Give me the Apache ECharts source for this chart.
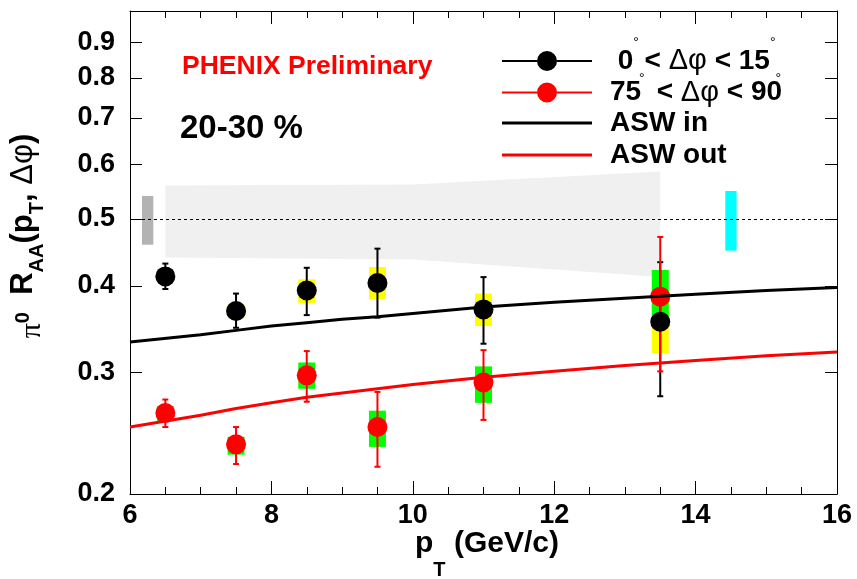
<!DOCTYPE html>
<html>
<head>
<meta charset="utf-8">
<style>
  html, body { margin: 0; padding: 0; background: #fff; }
  #chart { width: 857px; height: 579px; }
</style>
<script src="https://cdn.jsdelivr.net/npm/echarts@6/dist/echarts.min.js"></script>
</head>
<body>
<div id="chart"></div>
<script>
// pT bins of the measured points
const ptBins = [6.5, 7.5, 8.5, 9.5, 11, 13.5];

// 0 < dphi < 15 (in plane)
const inPlane  = [0.413, 0.368, 0.394, 0.404, 0.370, 0.355];
const inStatLo = [0.396, 0.348, 0.363, 0.360, 0.330, 0.277];
const inStatHi = [0.431, 0.390, 0.425, 0.453, 0.412, 0.433];
const inSysLo  = [0.405, 0.360, 0.378, 0.383, 0.350, 0.320];
const inSysHi  = [0.421, 0.376, 0.409, 0.426, 0.390, 0.395];

// 75 < dphi < 90 (out of plane)
const outPlane  = [0.262, 0.236, 0.297, 0.250, 0.290, 0.386];
const outStatLo = [0.250, 0.221, 0.272, 0.219, 0.256, 0.301];
const outStatHi = [0.274, 0.250, 0.322, 0.281, 0.323, 0.471];
const outSysLo  = [0.255, 0.228, 0.284, 0.234, 0.271, 0.353];
const outSysHi  = [0.268, 0.242, 0.310, 0.264, 0.306, 0.422];

// ASW model curves
const aswPt  = [6, 7, 7.5, 8, 8.5, 9, 9.5, 10, 11, 12, 13, 14, 15, 16];
const aswIn  = [0.332, 0.340, 0.345, 0.350, 0.354, 0.358, 0.361, 0.365, 0.373, 0.379, 0.384, 0.389, 0.394, 0.398];
const aswOut = [0.250, 0.260, 0.266, 0.271, 0.276, 0.280, 0.284, 0.288, 0.295, 0.301, 0.307, 0.312, 0.317, 0.321];

// grey uncertainty band
const bandPt = [6.5, 10, 13.5];
const bandLo = [0.440, 0.437, 0.412];
const bandHi = [0.559, 0.561, 0.586];

// normalisation boxes (grey left, cyan right)
const normPt = [6.25, 14.5];
const normLo = [0.459, 0.450];
const normHi = [0.540, 0.549];

const xTicks = [6, 8, 10, 12, 14, 16];
const yTicks = [0.2, 0.3, 0.4, 0.5, 0.6, 0.7, 0.8, 0.9];

const nameIn = '0° < Δφ < 15°';
const nameOut = '75° < Δφ < 90°';

const FONT = 'Liberation Sans, Arial, Helvetica, sans-serif';
const normColors = ['#b3b3b3', '#00ffff'];

function boxRenderer(halfWidth, color) {
  return function (params, api) {
    const x = api.value(0);
    const p1 = api.coord([x - halfWidth, api.value(2)]);
    const p2 = api.coord([x + halfWidth, api.value(1)]);
    const fill = typeof color === 'function' ? color(params.dataIndex) : color;
    return {
      type: 'rect',
      shape: { x: p1[0], y: p1[1], width: p2[0] - p1[0], height: p2[1] - p1[1] },
      style: { fill: fill }
    };
  };
}

function errorRenderer(color) {
  return function (params, api) {
    const x = api.value(0);
    const lo = api.coord([x, api.value(1)]);
    const hi = api.coord([x, api.value(2)]);
    const cap = 3;
    const style = { stroke: color, lineWidth: 2 };
    return {
      type: 'group',
      children: [
        { type: 'line', shape: { x1: lo[0], y1: lo[1], x2: hi[0], y2: hi[1] }, style: style },
        { type: 'line', shape: { x1: lo[0] - cap, y1: lo[1], x2: lo[0] + cap, y2: lo[1] }, style: style },
        { type: 'line', shape: { x1: hi[0] - cap, y1: hi[1], x2: hi[0] + cap, y2: hi[1] }, style: style }
      ]
    };
  };
}

const triple = (lo, hi) => ptBins.map((x, i) => [x, lo[i], hi[i]]);

const chart = echarts.init(document.getElementById('chart'));

const xBase = {
  type: 'value', min: xTicks[0], max: xTicks[xTicks.length - 1], interval: 2,
  axisLine: { show: true, onZero: false, lineStyle: { color: '#000', width: 1 } },
  axisTick: { show: true, inside: true, length: 13, lineStyle: { color: '#000' } },
  minorTick: { show: true, splitNumber: 4, length: 7, lineStyle: { color: '#000' } },
  splitLine: { show: false }
};
const yBase = {
  type: 'log', logBase: 10, min: 0.2, max: 1.0,
  axisLine: { show: true, onZero: false, lineStyle: { color: '#000', width: 1 } },
  axisTick: { show: true, inside: true, length: 12, customValues: yTicks, lineStyle: { color: '#000' } },
  minorTick: { show: false },
  splitLine: { show: false }
};

const legendRich = {
  t: { fontFamily: FONT, fontWeight: 'bold', fontSize: 28, color: '#000', lineHeight: 28 },
  g: { fontFamily: FONT, fontSize: 29, color: '#000', lineHeight: 28 },
  sup: { fontFamily: FONT, fontSize: 14, color: '#000', lineHeight: 14, padding: [0, 0, 36, 0] },
  sub: { fontFamily: FONT, fontSize: 14, color: '#000', lineHeight: 14, padding: [36, 0, 0, 0] }
};
const pointIcon = 'path://M0,9H35V11H0Z M55,9H90V11H55Z M35,10A10,10,0,1,1,55,10A10,10,0,1,1,35,10Z';
const legendRows = [
  { name: nameIn, top: 36, icon: pointIcon, h: 20, text: '{t| 0}{sup|°}{sub|°}{t|< }{g|Δφ}{t| < 15}{sup|°}{sub|°}' },
  { name: nameOut, top: 78, icon: pointIcon, h: 20, text: '{t|75  < }{g|Δφ}{t| < 90}' },
  { name: 'ASW in', top: 109, icon: 'rect', h: 3, text: '{t|ASW in}' },
  { name: 'ASW out', top: 141, icon: 'rect', h: 3, text: '{t|ASW out}' }
];

chart.setOption({
  animation: false,
  backgroundColor: '#fff',
  grid: { left: 130, right: 20, top: 11, bottom: 85, outerBoundsMode: 'none' },
  xAxis: [
    Object.assign({}, xBase, {
      position: 'bottom',
      axisLabel: { show: true, margin: 8, color: '#000', fontFamily: FONT, fontWeight: 'bold', fontSize: 27 }
    }),
    Object.assign({}, xBase, { position: 'top', axisLabel: { show: false } })
  ],
  yAxis: [
    Object.assign({}, yBase, {
      position: 'left',
      axisLabel: {
        show: true, margin: 15, customValues: yTicks, color: '#000', fontFamily: FONT, fontWeight: 'bold', fontSize: 27,
        formatter: v => String(Number(v.toFixed(1)))
      }
    }),
    Object.assign({}, yBase, { position: 'right', axisLabel: { show: false } })
  ],
  legend: legendRows.map(r => ({
    left: 502, top: r.top, padding: 0, selectedMode: false,
    itemWidth: 90, itemHeight: r.h,
    data: [{ name: r.name, icon: r.icon, itemStyle: { opacity: 1 } }],
    formatter: () => r.text,
    textStyle: { padding: [0, 0, 0, 13], rich: legendRich }
  })),
  graphic: [
    {
      type: 'text', left: 182, top: 53, z: 100,
      style: { text: 'PHENIX Preliminary', fill: '#ff0000', font: 'bold 26.5px ' + FONT }
    },
    {
      type: 'text', left: 180, top: 112, z: 100,
      style: { text: '20-30 %', fill: '#000', font: 'bold 33px ' + FONT }
    },
    {
      type: 'text', x: 487, y: 544, z: 100,
      style: {
        text: '{b|p}{s|T}{b| (GeV/c)}',
        align: 'center', verticalAlign: 'middle',
        rich: {
          b: { fontFamily: FONT, fontWeight: 'bold', fontSize: 30, fill: '#000', lineHeight: 72 },
          s: { fontFamily: FONT, fontWeight: 'bold', fontSize: 20, fill: '#000', lineHeight: 20, verticalAlign: 'bottom' }
        }
      }
    },
    {
      type: 'text', x: 23, y: 236, rotation: Math.PI / 2, z: 100,
      style: {
        text: '{pi|π}{sup|0}{b|  R}{s|AA}{b|(p}{s|T}{b|, }{g|Δφ}{b|)}',
        align: 'center', verticalAlign: 'middle',
        rich: {
          b: { fontFamily: FONT, fontWeight: 'bold', fontSize: 31, fill: '#000', lineHeight: 49 },
          s: { fontFamily: FONT, fontWeight: 'bold', fontSize: 20, fill: '#000', lineHeight: 18, verticalAlign: 'bottom' },
          pi: { fontFamily: 'Liberation Serif, serif', fontSize: 30, fill: '#000', lineHeight: 25, verticalAlign: 'bottom' },
          sup: { fontFamily: FONT, fontWeight: 'bold', fontSize: 20, fill: '#000', lineHeight: 49 },
          g: { fontFamily: FONT, fontSize: 31, fill: '#000', lineHeight: 49 }
        }
      }
    }
  ],
  series: [
    {
      name: 'band', type: 'custom', silent: true,
      data: [[bandPt[0], bandLo[0], bandHi[0]]],
      renderItem: function (params, api) {
        const upper = bandPt.map((x, i) => api.coord([x, bandHi[i]]));
        const lower = bandPt.map((x, i) => api.coord([x, bandLo[i]])).reverse();
        return { type: 'polygon', shape: { points: upper.concat(lower) }, style: { fill: '#f0f0f0' } };
      }
    },
    {
      name: 'norm', type: 'custom', silent: true,
      data: normPt.map((x, i) => [x, normLo[i], normHi[i]]),
      renderItem: boxRenderer(0.08, i => normColors[i])
    },
    {
      name: 'sysIn', type: 'custom', silent: true,
      data: triple(inSysLo, inSysHi),
      renderItem: boxRenderer(0.12, '#ffff00')
    },
    {
      name: 'sysOut', type: 'custom', silent: true,
      data: triple(outSysLo, outSysHi),
      renderItem: boxRenderer(0.12, '#00ff00')
    },
    {
      name: 'ASW in', type: 'line', symbol: 'none', color: '#000',
      lineStyle: { color: '#000', width: 3 },
      data: aswPt.map((x, i) => [x, aswIn[i]]),
      markLine: {
        silent: true, symbol: ['none', 'none'], label: { show: false },
        lineStyle: { color: '#000', width: 1, type: [3, 3] },
        data: [{ yAxis: 0.5 }]
      }
    },
    {
      name: 'ASW out', type: 'line', symbol: 'none', color: '#ff0000',
      lineStyle: { color: '#ff0000', width: 3 },
      data: aswPt.map((x, i) => [x, aswOut[i]])
    },
    {
      name: 'statIn', type: 'custom', silent: true,
      data: triple(inStatLo, inStatHi),
      renderItem: errorRenderer('#000')
    },
    {
      name: nameIn, type: 'scatter', symbol: 'circle', symbolSize: 20, color: '#000',
      itemStyle: { color: '#000', opacity: 1 },
      data: ptBins.map((x, i) => [x, inPlane[i]])
    },
    {
      name: 'statOut', type: 'custom', silent: true,
      data: triple(outStatLo, outStatHi),
      renderItem: errorRenderer('#ff0000')
    },
    {
      name: nameOut, type: 'scatter', symbol: 'circle', symbolSize: 20, color: '#ff0000',
      itemStyle: { color: '#ff0000', opacity: 1 },
      data: ptBins.map((x, i) => [x, outPlane[i]])
    }
  ]
});
</script>
</body>
</html>
